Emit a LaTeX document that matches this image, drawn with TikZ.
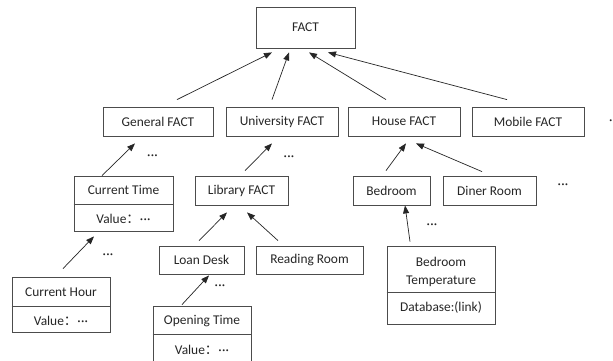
\documentclass[tikz,border=0pt]{standalone}
\usepackage{fontspec}
\setmainfont{Carlito}
\newfontfamily\cjk{Noto Sans CJK SC}
\usetikzlibrary{arrows.meta}
\newcommand{\dotsmid}{·\kern0.3pt·\kern0.3pt·}
\begin{document}
\begin{tikzpicture}[x=1pt,y=-1pt,
  box/.style={draw=black!70, line width=0.8pt, rectangle, inner sep=0pt,
    font=\fontsize{13.4}{15}\selectfont, text=black!85},
  lbl/.style={inner sep=0pt, font=\fontsize{13.4}{15}\selectfont, text=black!85},
  more/.style={inner sep=0pt, font=\fontsize{13.4}{15}\selectfont, text=black!85},
  arr/.style={-{Triangle[length=8pt,width=6pt]}, line width=0.7pt, draw=black!85},
  rule/.style={draw=black!70, line width=0.8pt}]
\useasboundingbox (0,0) rectangle (613,360);
\fill[white] (0,0) rectangle (613,360);

% root
\node[box, minimum width=99pt, minimum height=41pt] (fact) at (305.5,27.5) {FACT};

% first level
\node[box, minimum width=110pt, minimum height=29pt] (gen)   at (158,121.5) {General FACT};
\node[box, minimum width=112pt, minimum height=29pt] (uni)   at (282,121.5) {University FACT};
\node[box, minimum width=112pt, minimum height=29pt] (house) at (404,121.5) {House FACT};
\node[box, minimum width=112pt, minimum height=29pt] (mob)   at (528,121.5) {Mobile FACT};
\node[more] (d0) at (614.5,122) {\dotsmid};

% second level
\node[box, minimum width=99pt, minimum height=55pt] (ct) at (123.5,203.5) {};
\node[lbl] (ctl) at (123.5,190) {Current Time};
\node[lbl] (ctv) at (123.5,219) {Value{\cjk ：}\dotsmid};
\draw[rule] ([yshift=-0.5pt]ct.west) -- ([yshift=-0.5pt]ct.east);

\node[box, minimum width=93pt, minimum height=29pt] (lib)   at (241.5,190.5) {Library FACT};
\node[box, minimum width=77pt, minimum height=29pt] (bed)   at (391.5,190.5) {Bedroom};
\node[box, minimum width=93pt, minimum height=29pt] (diner) at (489.5,190.5) {Diner Room};
\node[more] (d1) at (563,186) {\dotsmid};
\node[more] (d2) at (152.5,157.5) {\dotsmid};
\node[more] (d3) at (289,158) {\dotsmid};

% third level
\node[box, minimum width=85pt, minimum height=28pt] (loan) at (201.5,260) {Loan Desk};
\node[box, minimum width=107pt, minimum height=28pt] (read) at (309.5,260) {Reading Room};

\node[box, minimum width=108pt, minimum height=78pt] (bt) at (441,285) {};
\node[lbl] (btl1) at (441,262) {Bedroom};
\node[lbl] (btl2) at (441,281) {Temperature};
\node[lbl] (btv) at (441,308) {Database:(link)};
\draw[rule] ([yshift=-7pt]bt.west) -- ([yshift=-7pt]bt.east);
\node[more] (d4) at (432,226.5) {\dotsmid};

\node[box, minimum width=98pt, minimum height=55pt] (ch) at (61,304.5) {};
\node[lbl] (chl) at (61,292.5) {Current Hour};
\node[lbl] (chv) at (61,320.5) {Value{\cjk ：}\dotsmid};
\draw[rule] ([yshift=-1.5pt]ch.west) -- ([yshift=-1.5pt]ch.east);
\node[more] (d5) at (108,256.5) {\dotsmid};

% fourth level
\node[box, minimum width=98pt, minimum height=62pt] (ot) at (202,337) {};
\node[lbl] (otl) at (202,321) {Opening Time};
\node[lbl] (otv) at (202,350) {Value{\cjk ：}\dotsmid};
\draw[rule] ([yshift=3pt]ot.west) -- ([yshift=3pt]ot.east);
\node[more] (d6) at (220,287.5) {\dotsmid};

% inheritance arrows
\draw[arr] ([xshift=19pt,yshift=7pt]gen.north)   -- ([xshift=-33.5pt,yshift=-4pt]fact.south);
\draw[arr] ([xshift=-10pt,yshift=7pt]uni.north)  -- ([xshift=-16.5pt,yshift=-4pt]fact.south);
\draw[arr] ([xshift=-18pt,yshift=7pt]house.north) -- ([xshift=3.5pt,yshift=-4pt]fact.south);
\draw[arr] ([xshift=-21pt,yshift=7pt]mob.north)  -- ([xshift=22.5pt,yshift=-4pt]fact.south);

\draw[arr] ([xshift=-21.5pt,yshift=0pt]ct.north) -- ([xshift=-23pt,yshift=-7pt]gen.south);
\draw[arr] ([xshift=3.5pt,yshift=5pt]lib.north)  -- ([xshift=-10pt,yshift=-7pt]uni.south);
\draw[arr] ([xshift=-5.5pt,yshift=5pt]bed.north) -- ([xshift=2pt,yshift=-7pt]house.south);
\draw[arr] ([xshift=-7.5pt,yshift=4pt]diner.north) -- ([xshift=12pt,yshift=-7pt]house.south);

\draw[arr] ([xshift=2pt,yshift=8pt]ch.north)     -- ([xshift=-29.5pt,yshift=-5pt]ct.south);
\draw[arr] ([xshift=-2.5pt,yshift=5pt]loan.north) -- ([xshift=-14.5pt,yshift=-7pt]lib.south);
\draw[arr] ([xshift=-31.5pt,yshift=5pt]read.north) -- ([xshift=5.5pt,yshift=-7pt]lib.south);
\draw[arr] ([xshift=-31pt,yshift=4pt]bt.north)   -- ([xshift=13.5pt]bed.south);
\draw[arr] ([xshift=-20pt,yshift=1pt]ot.north)   -- ([xshift=7.5pt,yshift=-1pt]loan.south);
\end{tikzpicture}
\end{document}
